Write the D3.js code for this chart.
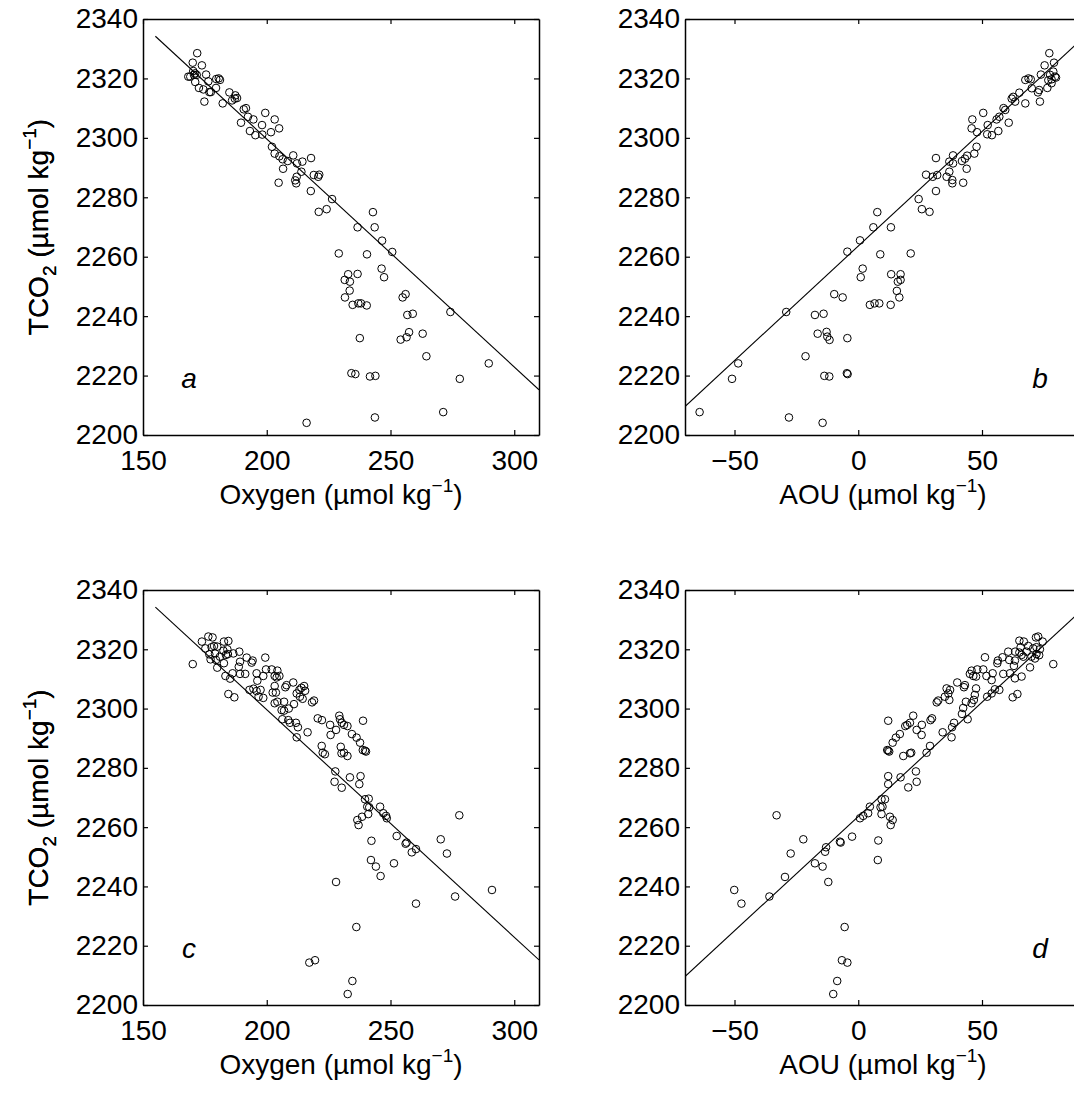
<!DOCTYPE html>
<html><head><meta charset="utf-8">
<script src="https://cdn.jsdelivr.net/npm/d3@7"></script>
<style>
body{margin:0;background:#fff}
svg{display:block}
text{font-family:"Liberation Sans",Arial,Helvetica,sans-serif;fill:#000}
</style></head>
<body>
<svg id="chart" width="1074" height="1093"></svg>
<script>
// ---------- data ----------
const oxygenTicks = [150, 200, 250, 300];
const aouTicks = [-50, 0, 50];
const tco2Ticks = [2200, 2220, 2240, 2260, 2280, 2300, 2320, 2340];
const oxygenDomain = [150, 310];
const aouDomain = [-70, 90];
const tco2Domain = [2200, 2340];
const panelLetters = ["a", "b", "c", "d"];
const oxygenLabel = "Oxygen (µmol kg";
const aouLabel = "AOU (µmol kg";

// regression lines [x, TCO2]
const fitOxygen = [[155, 2334.2], [310, 2215.2]];
const fitAOU = [[-70, 2209.6], [90, 2333.0]];

// panel a: [Oxygen, TCO2]
const panelA = [
[171.9,2328.5],[170.1,2325.3],[173.8,2324.4],
[168.3,2320.6],[169.1,2320.6],[170.3,2322.5],[171.0,2321.7],[171.7,2321.2],[170.6,2321.2],
[175.5,2321.3],[171.1,2318.8],[176.4,2319.0],
[179.6,2319.8],[180.6,2320.0],[181.1,2319.5],
[172.6,2316.8],[174.4,2316.3],[176.8,2315.4],[177.4,2315.4],[179.5,2316.8],
[174.8,2312.2],[182.2,2311.6],[184.9,2315.3],
[187.3,2314.3],[188.0,2313.4],[187.1,2313.2],[186.0,2312.6],
[190.7,2309.6],[191.6,2310.0],[189.6,2305.1],[192.4,2307.1],[194.6,2306.2],
[193.2,2302.3],[195.4,2300.9],[198.1,2304.3],[199.4,2308.4],[203.2,2306.2],
[205.0,2303.2],[201.7,2301.9],[198.2,2301.1],[202.1,2297.0],[203.2,2294.7],
[205.1,2293.8],[206.4,2292.8],[208.5,2292.2],[210.7,2294.1],[212.2,2291.4],[214.4,2292.0],
[217.9,2293.2],[206.6,2289.6],[214.0,2288.6],[212.1,2286.9],[211.5,2285.7],[211.9,2284.7],
[204.8,2284.9],[219.0,2287.5],[220.8,2286.9],[221.2,2287.6],[217.8,2282.1],[226.4,2279.4],
[221.0,2275.1],[224.2,2276.0],[242.9,2275.0],[236.7,2269.9],[243.6,2269.9],[246.6,2265.4],
[229.1,2261.1],[240.5,2260.8],[250.7,2261.6],[246.4,2256.0],[247.4,2253.1],
[232.9,2254.1],[231.5,2252.2],[233.6,2251.6],[236.7,2254.2],[233.5,2248.6],[231.6,2246.3],
[234.7,2243.8],[237.0,2244.3],[238.1,2244.3],[240.4,2243.6],
[254.9,2246.3],[256.1,2247.4],[256.8,2240.4],[259.0,2240.8],[237.6,2232.6],
[254.1,2232.1],[256.5,2232.9],[257.5,2234.6],[263.0,2234.1],[264.5,2226.5],[274.2,2241.4],
[289.7,2224.1],[278.0,2218.9],[234.2,2220.8],[235.8,2220.5],[241.7,2219.7],[243.9,2219.9],
[271.3,2207.7],[243.7,2205.9],[216.1,2204.1]
];

// panel b: [AOU, TCO2]
const panelB = [
[77.2,2328.5],[79.1,2325.3],[75.3,2324.4],[73.8,2321.3],
[77.5,2321.2],[78.8,2322.3],[79.5,2320.6],[78.1,2319.7],[79.9,2320.3],[76.8,2319.4],
[78.1,2318.4],[76.4,2316.8],[73.1,2316.1],[72.6,2315.3],[73.4,2312.2],
[69.7,2319.7],[68.8,2320.0],[67.5,2319.5],[70.1,2316.7],[65.1,2315.2],
[62.6,2313.8],[62.0,2313.2],[63.4,2312.2],[67.5,2311.6],[58.7,2310.0],[59.4,2309.4],
[60.8,2305.1],[57.0,2307.1],[55.9,2306.2],[56.6,2302.3],[54.0,2300.9],[52.1,2301.2],
[52.3,2304.3],[50.5,2308.4],[46.1,2306.2],[45.8,2303.2],[48.0,2301.9],[47.8,2297.0],
[46.9,2294.7],[44.0,2294.0],[43.1,2293.0],[41.9,2292.2],[38.3,2294.1],[38.3,2291.4],
[36.8,2292.0],[31.4,2293.2],[43.8,2289.6],[36.8,2288.6],[38.0,2285.8],[38.0,2284.7],
[35.7,2286.9],[42.4,2284.9],[31.9,2287.5],[30.1,2286.9],[27.4,2287.6],[31.4,2282.1],
[24.4,2279.4],[25.7,2276.0],[28.8,2275.1],[7.7,2275.0],[6.1,2269.9],[13.2,2269.9],
[0.7,2265.5],[-4.4,2261.7],[8.9,2260.8],[21.2,2261.1],[1.8,2256.0],[1.0,2253.1],
[13.3,2254.1],[17.1,2254.1],[17.1,2252.2],[16.0,2251.6],[15.6,2248.5],[16.6,2246.3],
[4.7,2243.8],[6.6,2244.3],[8.5,2244.3],[13.1,2243.8],[-9.7,2247.4],[-6.3,2246.3],
[-17.5,2240.4],[-14.0,2240.8],[-4.4,2232.6],[-16.4,2234.1],[-12.8,2234.7],[-12.5,2233.1],
[-11.6,2232.0],[-29.1,2241.4],[-21.3,2226.5],[-48.5,2224.1],[-51.0,2218.9],
[-13.7,2219.9],[-11.7,2219.7],[-4.6,2220.8],[-4.3,2220.5],[-64.1,2207.7],[-28.0,2205.9],[-14.4,2204.1]
];

// panel c: [Oxygen, TCO2]
const panelC = [
[170.1,2315.0],[173.8,2322.6],[176.4,2324.3],[178.1,2324.0],[175.2,2320.3],[177.7,2320.7],
[178.7,2321.1],[180.0,2320.9],[176.8,2318.3],[179.1,2318.6],[177.3,2316.6],[179.5,2316.4],
[181.1,2317.5],[182.7,2322.6],[184.5,2322.8],[182.5,2319.5],[184.1,2320.0],[183.5,2318.1],
[184.3,2318.4],[186.5,2318.6],[188.9,2319.2],[180.0,2313.8],[182.7,2315.3],[183.3,2311.0],
[185.2,2310.1],[188.7,2314.1],[189.2,2315.8],[186.2,2311.9],[189.2,2311.7],[191.3,2311.7],
[191.9,2317.2],[193.9,2315.5],[194.3,2316.2],[199.4,2317.2],[184.5,2304.9],[186.9,2303.8],
[195.9,2311.9],[196.2,2309.4],[198.6,2311.0],[199.7,2313.2],[202.0,2313.2],[204.3,2312.8],
[203.2,2311.0],[204.0,2310.5],[205.1,2311.0],[203.2,2307.6],[203.7,2305.4],[202.4,2305.4],
[203.2,2301.8],[204.3,2302.3],[207.0,2302.3],[207.5,2307.2],[208.0,2307.9],[210.7,2308.8],
[193.0,2306.3],[194.6,2306.7],[195.9,2305.9],[197.5,2306.3],[196.7,2304.0],[198.6,2303.6],
[206.0,2299.5],[207.0,2299.3],[208.9,2300.0],[211.0,2301.5],[206.3,2296.4],[208.7,2296.1],
[209.4,2295.2],[211.8,2295.2],[212.6,2293.7],[212.1,2290.3],[216.5,2292.0],[212.1,2305.1],
[213.2,2306.3],[214.0,2307.0],[215.1,2307.6],[215.5,2306.0],[213.4,2304.0],[214.5,2303.3],
[219.1,2302.7],[218.3,2302.1],[220.6,2296.7],[222.3,2296.1],[225.6,2294.5],[225.8,2291.1],
[228.0,2292.8],[229.3,2297.6],[229.6,2296.4],[230.3,2295.2],[231.2,2294.5],[232.6,2294.1],
[234.4,2291.4],[236.3,2290.2],[237.7,2288.5],[238.9,2295.9],[238.8,2286.0],[239.7,2285.8],
[240.1,2285.5],[222.2,2287.4],[222.6,2285.1],[223.5,2284.6],[229.9,2287.1],[230.2,2284.9],
[231.2,2285.1],[232.6,2284.0],[227.7,2278.8],[227.4,2275.3],[230.3,2273.3],[233.6,2276.8],
[237.9,2277.2],[237.4,2274.5],[239.7,2269.4],[241.2,2269.6],[240.6,2266.9],[241.4,2266.7],
[241.0,2264.4],[245.8,2266.9],[247.1,2264.7],[248.2,2263.8],[248.5,2263.0],[236.6,2262.4],
[237.1,2260.7],[238.5,2263.5],[277.8,2264.0],
[242.3,2255.4],[252.5,2257.0],[256.5,2254.8],[256.1,2254.4],[260.3,2252.6],[258.6,2251.5],
[270.3,2255.9],[272.8,2251.1],[242.1,2248.9],[244.1,2246.7],[246.0,2243.5],[251.4,2247.8],
[228.0,2241.5],[291.0,2238.8],[276.1,2236.6],[260.3,2234.2],[236.2,2226.3],[217.2,2214.3],
[219.5,2215.1],[234.6,2208.1],[232.7,2203.7]
];

// panel d: [AOU, TCO2]
const panelD = [
[78.8,2315.0],[65.1,2322.9],[66.9,2322.6],[71.8,2324.0],[72.7,2324.3],[74.5,2322.6],
[68.7,2321.1],[70.7,2320.3],[72.0,2320.7],[73.4,2320.0],[65.6,2320.7],[65.1,2318.9],
[66.0,2318.1],[66.7,2317.5],[68.0,2319.2],[70.0,2317.5],[71.4,2316.9],[72.0,2318.4],
[73.1,2318.0],[63.4,2319.2],[60.6,2319.2],[58.3,2317.3],[61.0,2316.4],[63.3,2316.2],
[62.9,2314.4],[69.4,2313.9],[66.0,2310.8],[63.3,2310.2],[61.3,2311.9],[58.6,2311.7],
[56.4,2316.2],[56.2,2315.3],[51.2,2317.3],[50.5,2313.2],[48.1,2313.2],[45.8,2312.8],
[45.1,2311.7],[47.6,2310.8],[46.5,2311.0],[51.8,2311.0],[54.3,2311.9],[53.9,2309.6],
[57.0,2306.3],[55.2,2306.5],[53.9,2305.1],[52.1,2304.0],[62.4,2303.8],[64.3,2304.9],
[47.6,2306.8],[47.1,2304.6],[46.7,2302.9],[45.8,2301.8],[43.5,2302.3],[42.7,2307.2],
[43.1,2307.9],[40.0,2308.8],[42.4,2300.2],[41.9,2298.2],[44.2,2296.4],[38.7,2295.2],
[37.9,2293.7],[37.7,2290.3],[34.1,2292.0],[36.4,2305.1],[35.7,2306.8],[37.1,2306.3],
[35.0,2304.0],[36.8,2302.9],[32.3,2302.7],[31.7,2302.1],[29.8,2296.7],[29.2,2296.1],
[25.7,2294.5],[25.6,2291.1],[23.6,2292.8],[22.2,2297.6],[20.9,2295.2],[19.8,2294.5],
[19.0,2294.1],[16.8,2291.4],[15.2,2290.2],[13.9,2288.5],[12.1,2295.9],[11.7,2286.0],
[12.5,2285.5],[12.1,2285.8],[29.0,2287.4],[27.6,2285.1],[20.9,2284.9],[21.4,2285.1],
[18.2,2284.0],[23.3,2278.8],[12.1,2277.2],[17.1,2276.8],[12.1,2274.5],[20.2,2273.4],
[23.6,2275.3],[9.4,2269.4],[10.8,2269.4],[9.8,2266.9],[9.0,2266.7],[9.4,2264.4],
[4.7,2266.9],[4.0,2264.7],[2.0,2263.8],[0.7,2263.0],[13.9,2262.4],[13.1,2260.7],
[12.8,2263.5],[-33.0,2264.0],
[-2.5,2256.8],[-7.4,2255.1],[-7.1,2254.8],[-13.0,2253.2],[-13.4,2251.7],[-17.5,2247.8],
[-14.4,2246.7],[-12.1,2241.5],[-22.2,2255.9],[-27.3,2251.1],[-29.6,2243.2],[-35.9,2236.6],
[-50.1,2238.8],[-47.2,2234.2],[8.1,2255.5],[7.9,2248.9],[-5.5,2226.3],[-6.6,2215.1],
[-4.4,2214.3],[-8.5,2208.1],[-10.1,2203.7]
];

// ---------- layout ----------
const svg = d3.select("#chart");
const PW = 396;
const panels = [
  {x0:143, y0:19,  h:416, data:panelA, fit:fitOxygen, dom:oxygenDomain, ticks:oxygenTicks, label:oxygenLabel, letter:panelLetters[0], lx:46,  id:"a"},
  {x0:685, y0:19,  h:416, data:panelB, fit:fitAOU,    dom:aouDomain,    ticks:aouTicks,    label:aouLabel,    letter:panelLetters[1], lx:355, id:"b"},
  {x0:143, y0:590, h:415, data:panelC, fit:fitOxygen, dom:oxygenDomain, ticks:oxygenTicks, label:oxygenLabel, letter:panelLetters[2], lx:46,  id:"c"},
  {x0:685, y0:590, h:415, data:panelD, fit:fitAOU,    dom:aouDomain,    ticks:aouTicks,    label:aouLabel,    letter:panelLetters[3], lx:355, id:"d"}
];

const FS = 28;
panels.forEach(p => {
  const x = d3.scaleLinear().domain(p.dom).range([0, PW]);
  const y = d3.scaleLinear().domain(tco2Domain).range([p.h, 0]);
  const g = svg.append("g").attr("transform", `translate(${p.x0},${p.y0})`);

  g.append("clipPath").attr("id", "clip" + p.id)
    .append("rect").attr("width", PW).attr("height", p.h);

  const plot = g.append("g").attr("clip-path", `url(#clip${p.id})`);

  // regression line
  plot.append("path")
    .datum(p.fit)
    .attr("d", d3.line().x(d => x(d[0])).y(d => y(d[1])))
    .attr("fill", "none").attr("stroke", "#000").attr("stroke-width", 1.1);

  // points
  plot.selectAll("circle").data(p.data).enter().append("circle")
    .attr("cx", d => x(d[0])).attr("cy", d => y(d[1])).attr("r", 3.8)
    .attr("fill", "none").attr("stroke", "#000").attr("stroke-width", 1);

  // axes
  const styleAxis = sel => {
    sel.selectAll("path.domain").attr("stroke", "#000").attr("stroke-width", 1.5);
    sel.selectAll(".tick line").attr("stroke", "#000").attr("stroke-width", 1.2);
    sel.selectAll("text").attr("font-size", FS).attr("font-family", '"Liberation Sans",Arial,sans-serif').attr("fill", "#000");
  };
  g.append("g").attr("transform", `translate(0,${p.h})`)
    .call(d3.axisBottom(x).tickValues(p.ticks).tickSize(-5).tickSizeOuter(0).tickPadding(15).tickFormat(d3.format("d")))
    .call(styleAxis);
  g.append("g")
    .call(d3.axisTop(x).tickValues(p.ticks).tickSize(-5).tickSizeOuter(0).tickFormat(""))
    .call(styleAxis);
  g.append("g")
    .call(d3.axisLeft(y).tickValues(tco2Ticks).tickSize(-5).tickSizeOuter(0).tickPadding(5).tickFormat(d3.format("d")))
    .call(styleAxis);
  g.append("g").attr("transform", `translate(${PW},0)`)
    .call(d3.axisRight(y).tickValues(tco2Ticks).tickSize(-5).tickSizeOuter(0).tickFormat(""))
    .call(styleAxis);

  // x title
  const xt = g.append("text").attr("x", 198).attr("y", p.h + 69)
    .attr("text-anchor", "middle").attr("font-size", FS);
  xt.append("tspan").text(p.label);
  xt.append("tspan").attr("font-size", 19).attr("dy", -12).text("−1");
  xt.append("tspan").attr("dy", 12).text(")");

  // y title
  const yt = g.append("text")
    .attr("transform", `translate(${-p.x0 + 48},${p.h / 2}) rotate(-90)`)
    .attr("text-anchor", "middle").attr("font-size", FS);
  yt.append("tspan").text("TCO");
  yt.append("tspan").attr("font-size", 19).attr("dy", 8).text("2");
  yt.append("tspan").attr("dy", -8).text(" (µmol kg");
  yt.append("tspan").attr("font-size", 19).attr("dy", -12).text("−1");
  yt.append("tspan").attr("dy", 12).text(")");

  // panel letter
  g.append("text").attr("x", p.lx).attr("y", p.h - 47)
    .attr("text-anchor", "middle").attr("font-size", FS).attr("font-style", "italic")
    .text(p.letter);
});
</script>
</body></html>
